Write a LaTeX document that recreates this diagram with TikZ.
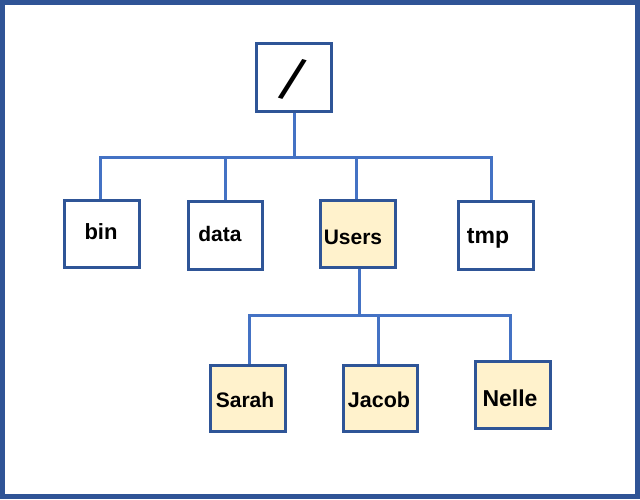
\documentclass[tikz,border=0pt]{standalone}
\usepackage{fontspec}
\setmainfont{Liberation Sans}
\definecolor{frameblue}{RGB}{47,84,150}
\definecolor{boxblue}{RGB}{47,85,151}
\definecolor{linkblue}{RGB}{68,114,196}
\definecolor{userfill}{RGB}{255,242,204}
\tikzset{
  dirbox/.style={draw=boxblue, line width=3pt, fill=white, inner sep=0pt,
    minimum width=75pt, minimum height=67pt, font=\bfseries, text depth=0pt},
  userbox/.style={dirbox, fill=userfill},
  link/.style={draw=linkblue, line width=3pt}
}
\newcommand{\lbl}[3]{\fontsize{#1}{#1}\selectfont\makebox[0pt]{\hspace*{#2}#3}}
\begin{document}
\begin{tikzpicture}[x=1pt,y=-1pt]
\useasboundingbox (0,0) rectangle (640,499);
\draw[frameblue, line width=5pt] (2.5,2.5) rectangle (637.5,496.5);
% boxes
\node[dirbox, minimum width=75pt, minimum height=68pt] (root) at (294,77.5) {};
\node[rotate=-17, inner sep=0pt, font=\fontsize{60}{60}\selectfont] (slash) at (292.5,79.5) {/};
\node[dirbox, text height=10pt] (bin) at (102,234) {\lbl{22}{-2pt}{bin}};
\node[dirbox, minimum width=74pt, minimum height=68pt, text height=11pt] (data) at (225.5,235.5) {\lbl{21}{-11pt}{data}};
\node[userbox, text height=20pt] (users) at (358,234) {\lbl{21}{-10pt}{Users}};
\node[dirbox, minimum height=68pt, text height=15pt] (tmp) at (496,235.5) {\lbl{23}{-16pt}{tmp}};
\node[userbox, minimum height=66pt, text height=17pt] (sarah) at (248,398.5) {\lbl{21}{-6pt}{Sarah}};
\node[userbox, minimum width=74pt, minimum height=66pt, text height=17pt] (jacob) at (380.5,398.5) {\lbl{21.5}{-3pt}{Jacob}};
\node[userbox, text height=22pt] (nelle) at (513,395) {\lbl{23}{-6pt}{Nelle}};
% junctions
\coordinate (j1) at (294,157);
\coordinate (j2) at (359,315);
% connectors
\draw[link] (root) -- (j1);
\draw[link] (j1) -| ([xshift=-2pt]bin.north);
\draw[link] (j1) -| (data.north);
\draw[link] (j1) -| ([xshift=-2pt]users.north);
\draw[link] (j1) -| ([xshift=-5pt]tmp.north);
\draw[link] ([xshift=1pt]users.south) -- (j2);
\draw[link] (j2) -| ([xshift=1pt]sarah.north);
\draw[link] (j2) -| ([xshift=-2.5pt]jacob.north);
\draw[link] (j2) -| ([xshift=-3pt]nelle.north);
\end{tikzpicture}
\end{document}
